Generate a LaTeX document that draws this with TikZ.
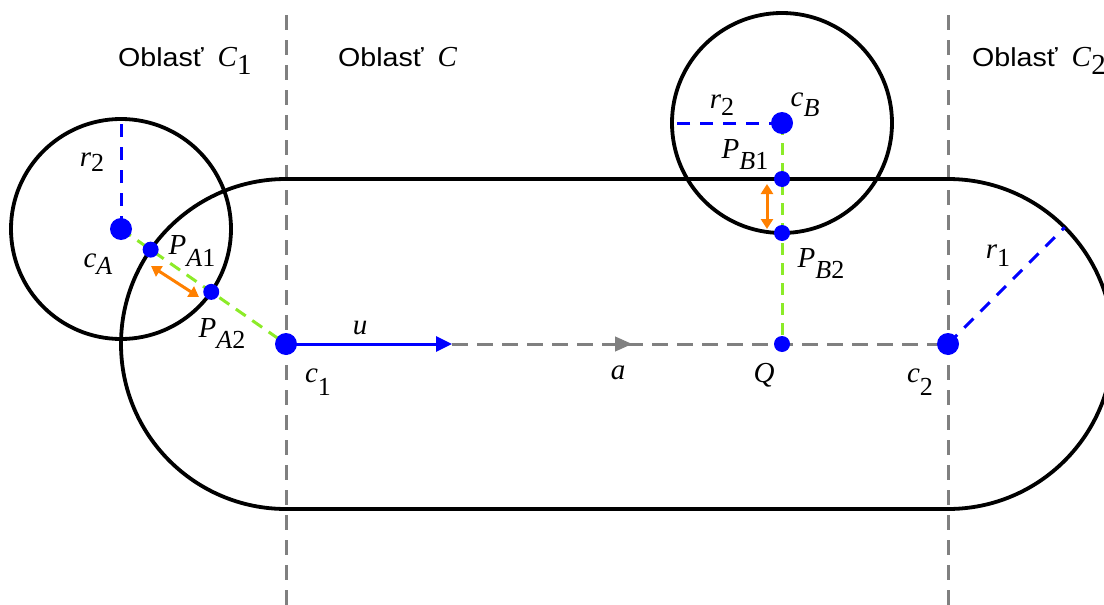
\documentclass[tikz,border=0pt]{standalone}
\usepackage{fontspec}
\setmainfont{Liberation Serif}
\newfontfamily\sansf[FakeStretch=1.1]{Liberation Sans}
\usetikzlibrary{arrows.meta,calc}
\definecolor{myblue}{RGB}{0,0,255}
\definecolor{mygray}{RGB}{128,128,128}
\definecolor{mygreen}{RGB}{140,235,40}
\definecolor{myorange}{RGB}{255,128,0}
\newcommand\lbl[3][10pt]{\textit{#2}\raisebox{-#1}{\fontsize{26}{26}\selectfont #3}}
\tikzset{
  outline/.style={black,line width=3.8pt},
  regionline/.style={mygray,line width=3pt,dash pattern=on 15pt off 10pt},
  axisline/.style={mygray,line width=3pt,dash pattern=on 16pt off 9pt},
  radline/.style={myblue,line width=3pt,dash pattern=on 13pt off 10pt},
  distline/.style={mygreen,line width=3pt,dash pattern=on 12pt off 8pt},
  gaparrow/.style={myorange,line width=3pt,{Triangle[length=10pt,width=12pt]}-{Triangle[length=10pt,width=12pt]}},
  lab/.style={inner sep=0pt,font=\fontsize{29}{29}\selectfont},
  region/.style={inner sep=0pt,anchor=base west,font=\fontsize{26}{26}\selectfont},
}
\begin{document}
\begin{tikzpicture}[x=1pt,y=1pt]
\useasboundingbox (0,-605) rectangle (1104,0);
% key points
\coordinate (CA) at (121,-229);
\coordinate (CB) at (782,-123);
\coordinate (C1) at (286,-344);
\coordinate (C2) at (948,-344);
\coordinate (Q) at (782,-344);
\coordinate (PB1) at (782,-179);
\coordinate (PB2) at (782,-233);
\coordinate (PA2) at ($(CA)!110pt!(C1)$);
\coordinate (PA1) at ($(C1)!165pt!(CA)$);
\coordinate (v1t) at (286,-15);
\coordinate (v1b) at (286,-605);
\coordinate (v2t) at (948,-15);
\coordinate (v2b) at (948,-605);
\coordinate (utip) at (452,-344);
\coordinate (ga1) at (618,-344);
\coordinate (ga2) at (632,-344);
\coordinate (r1e) at ($(C2)+(45:165pt)$);
\coordinate (r2Ae) at ($(CA)+(0,106)$);
\coordinate (r2Be) at ($(CB)+(-106,0)$);
\coordinate (oa1) at (151,-266);
\coordinate (oa2) at (199,-297);
\coordinate (ob1) at (767,-184);
\coordinate (ob2) at (767,-229);
% region separators
\draw[regionline] (v1t) -- (v1b);
\draw[regionline] (v2t) -- (v2b);
% capsule
\draw[outline] (286,-179) -- (948,-179) arc[start angle=90,end angle=-90,radius=165pt]
  -- (286,-509) arc[start angle=-90,end angle=-270,radius=165pt] -- cycle;
% circles
\draw[outline] (CA) circle[radius=110pt];
\draw[outline] (CB) circle[radius=110pt];
% distance lines
\draw[distline] (CA) -- (C1);
\draw[distline] (CB) -- (Q);
% radii
\draw[radline] (CA) -- (r2Ae);
\draw[radline] (CB) -- (r2Be);
\draw[radline] (C2) -- (r1e);
% axis
\draw[axisline] (utip) -- (C2);
\draw[mygray,line width=1pt,-{Triangle[length=17pt,width=15pt]}] (ga1) -- (ga2);
\draw[myblue,line width=3pt,-{Triangle[length=16pt,width=15pt]}] (C1) -- (utip);
% gap arrows
\draw[gaparrow] (oa1) -- (oa2);
\draw[gaparrow] (ob1) -- (ob2);
% dots
\fill[myblue] (CA) circle[radius=11pt];
\fill[myblue] (CB) circle[radius=11pt];
\fill[myblue] (C1) circle[radius=11pt];
\fill[myblue] (C2) circle[radius=11pt];
\fill[myblue] (PA1) circle[radius=8pt];
\fill[myblue] (PA2) circle[radius=8pt];
\fill[myblue] (PB1) circle[radius=8pt];
\fill[myblue] (PB2) circle[radius=8pt];
\fill[myblue] (Q) circle[radius=8pt];
% region labels
\node[region] (oblC1) at (118,-66) {{\sansf Oblasť}\hspace{14pt}{\fontsize{29}{29}\selectfont\textit{C}\raisebox{-8pt}{1}}};
\node[region] (oblC) at (338,-66) {{\sansf Oblasť}\hspace{14pt}{\fontsize{29}{29}\selectfont\textit{C}}};
\node[region] (oblC2) at (972,-66) {{\sansf Oblasť}\hspace{14pt}{\fontsize{29}{29}\selectfont\textit{C}\raisebox{-8pt}{2}}};
% point labels
\node[lab] (lr2A) at (92,-162) {\lbl[5pt]{r}{2}};
\node[lab] (lcA) at (98,-264) {\lbl[7pt]{c}{\textit{A}}};
\node[lab] (lPA1) at (192,-251) {\lbl[12pt]{P}{\textit{A}1}};
\node[lab] (lPA2) at (222,-334) {\lbl[11pt]{P}{\textit{A}2}};
\node[lab] (lc1) at (318,-382) {\lbl[13pt]{c}{1}};
\node[lab] (lu) at (360,-328) {\textit{u}};
\node[lab] (la) at (618,-373) {\textit{a}};
\node[lab] (lQ) at (764,-375) {\textit{Q}};
\node[lab] (lcB) at (805,-105) {\lbl[10pt]{c}{\textit{B}}};
\node[lab] (lr2B) at (722,-105) {\lbl[7pt]{r}{2}};
\node[lab] (lPB1) at (745,-155) {\lbl[11pt]{P}{\textit{B}1}};
\node[lab] (lPB2) at (821,-264) {\lbl[11pt]{P}{\textit{B}2}};
\node[lab] (lr1) at (998,-256) {\lbl[8pt]{r}{1}};
\node[lab] (lc2) at (920,-382) {\lbl[13pt]{c}{2}};
\end{tikzpicture}
\end{document}
